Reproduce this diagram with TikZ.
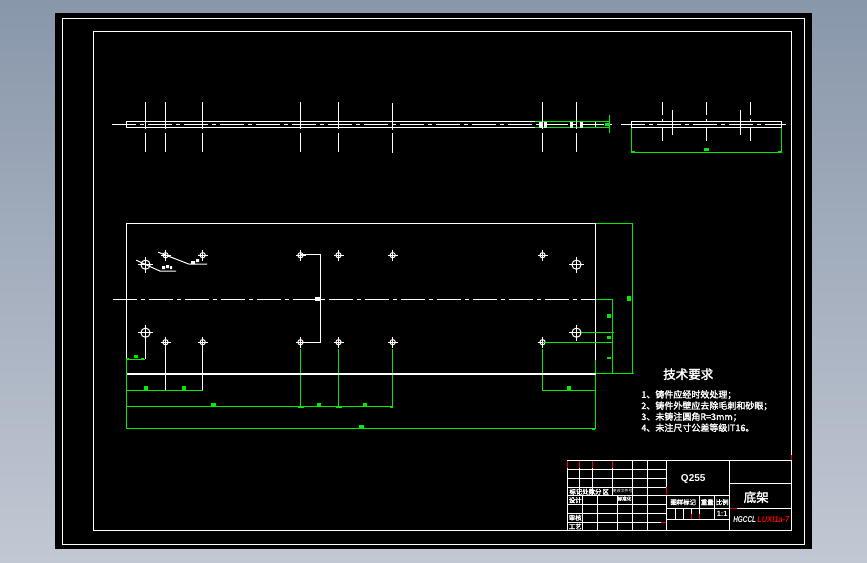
\documentclass[tikz,border=0pt]{standalone}
\usepackage{fontspec}
\setmainfont{Liberation Sans}
\newfontfamily\cjk[AutoFakeBold=2]{Noto Sans CJK SC}
\definecolor{dimgreen}{RGB}{0,235,0}
\definecolor{bgtop}{RGB}{137,151,171}
\definecolor{bgbot}{RGB}{194,200,211}
\definecolor{tred}{RGB}{240,0,0}
\tikzset{
  wl/.style={draw=white,line width=1.2pt},
  gl/.style={draw=dimgreen,line width=1.2pt},
  rl/.style={draw=tred,line width=1.2pt},
  cline/.style={draw=white,line width=1.2pt,dash pattern=on 24pt off 4pt on 4pt off 4pt},
  blob/.style={fill=dimgreen,draw=none},
  wblob/.style={fill=white,draw=none},
  tx/.style={text=white,inner sep=0pt,font=\cjk\bfseries\fontsize{6.4}{7}\selectfont},
  req/.style={text=white,inner sep=0pt,anchor=west,font=\cjk\bfseries\fontsize{9}{10}\selectfont},
}
\begin{document}
\begin{tikzpicture}[x=1pt,y=-1pt]
\useasboundingbox (0,0) rectangle (867,562);
\shade[top color=bgtop,bottom color=bgbot] (0,0) rectangle (867,562);
\fill[black] (55,13) rectangle (812,549);
\begin{scope}[shift={(0.2,0.2)}]
\draw[wl] (62.3,18.3) rectangle (804.3,544.3);
\draw[wl] (93.3,31.3) rectangle (791.3,530.3);
% --- upper view
\draw[wl] (535,121.5) -- (126.3,121.5) -- (126.3,127.5) -- (535,127.5);
\draw[gl] (535,121.5) -- (610,121.5) (535,127.5) -- (610,127.5);
\draw[gl] (609.5,115) -- (609.5,133);
\draw[cline] (112,124.3) -- (613,124.3);
\fill[blob] (605,123) rectangle (610,126);
\foreach \x in {145.3,165.3,202.3,300.3,338.3,542.3,576.3}{
  \draw[wl] (\x,102) -- (\x,129) (\x,133) -- (\x,152);
}
\draw[wl] (392.3,103) -- (392.3,130) (392.3,133) -- (392.3,153);
\foreach \x in {540,545,571,581}{ \fill[wblob] (\x-1.5,121.5) rectangle (\x+1.5,127.5); }
\draw[wl] (595.3,122) -- (595.3,127);
% --- upper right view
\draw[wl] (631.5,127.5) -- (631.5,121.5) -- (781.5,121.5) -- (781.5,127.5) -- cycle;
\draw[cline] (621,124.3) -- (786,124.3);
\foreach \x in {662.3,706.3,750.3}{
  \draw[wl] (\x,102) -- (\x,115) (\x,119) -- (\x,122) (\x,128) -- (\x,141);
}
\foreach \x in {672.3,740.3}{ \draw[wl] (\x,110) -- (\x,135); }
\draw[gl] (631.5,128) -- (631.5,152.3) -- (781.5,152.3) -- (781.5,128);
\fill[blob] (704,148) rectangle (709,151);
\fill[blob] (632,151) rectangle (635,152.3);
\fill[blob] (778,151) rectangle (781,152.3);
% --- main view
\draw[wl] (126.3,373) -- (126.3,223.5) -- (595.5,223.5) -- (595.5,360);
\draw[cline] (113,299.3) -- (595,299.3);
\foreach \x in {165.3,202.5,300.3,338.3,392.5,542.3}{
  \foreach \y in {255,342}{
    \draw[wl,line width=1pt] (\x,\y) circle (2.6);
    \draw[wl,line width=1pt] (\x-5,\y) -- (\x+5,\y) (\x,\y-5.5) -- (\x,\y+5.5);
  }
}
\foreach \p in {(145.3,264.5),(145.3,332.5),(576.3,264.5),(576.3,332.5)}{
  \draw[wl,line width=1pt] \p circle (4.6);
  \draw[wl,line width=1pt] \p +(-7.5,0) -- +(7.5,0) \p +(0,-8) -- +(0,8);
}
% white extension lines / leaders
\draw[wl] (300.3,254.5) -- (320,254.5) -- (320,342.5) -- (300.3,342.5);
\fill[wblob] (315,297) rectangle (320,301);
\draw[wl] (145.3,338) -- (145.3,359);
\draw[wl] (165.3,347) -- (165.3,390);
\draw[wl] (202.5,347) -- (202.5,390);
\draw[wl,line width=1pt] (136,260) -- (160,271) -- (176,271);
\fill[wblob] (162,266) rectangle (165,269) (166,265) rectangle (169,268) (170,266) rectangle (172,269);
\draw[wl,line width=1pt] (158,252) -- (189,264) -- (207,264);
\fill[wblob] (191,261) rectangle (195,264) (196,259) rectangle (199,262);
% green dimensions
\draw[gl] (126.5,359) -- (145,359);
\draw[gl] (126.5,359) -- (126.5,429);
\draw[gl] (126.5,390) -- (202.5,390);
\draw[gl] (126.5,406.5) -- (392.3,406.5);
\draw[gl] (126.5,428.3) -- (595.5,428.3);
\draw[gl] (595.5,360) -- (595.5,429);
\foreach \x in {300.3,338.3,392.3}{ \draw[gl] (\x,349) -- (\x,407); }
\draw[gl] (542.3,349) -- (542.3,391) (542.3,390) -- (595.5,390);
\draw[gl] (542.3,342.5) -- (612.5,342.5);
\draw[gl] (581,332.5) -- (613.5,332.5);
\draw[gl] (595.5,299.3) -- (612.5,299.3) (612.5,299.3) -- (612.5,373.5);
\draw[gl] (595.5,373.5) -- (633.5,373.5);
\draw[gl] (632.3,223.5) -- (632.3,373.5) (595.5,223.5) -- (632.8,223.5);
\draw[white,line width=2pt] (126.3,374) -- (595.5,374);
\foreach \x/\y/\w/\h in {136/356/4/3,146/388/4/3.5,184/388/4/3.5,213/404.5/5/3.5,319/404.5/4/3.5,365/404.5/3.5/3.5,361/426.5/5/3.5,569/388/4/3.5,629/298.5/3.5/5,609/316/4/3.5,609/337.5/4/3.5,609/358/4/1.5,
   127.5/358.5/3/1.5,142/358.5/3/1.5,127.5/406.5/3/1.5,300.3/407/6/1.5,338.3/407/6/1.5,391/407/3/1.5,127.5/428.5/3/1.5,593.5/429/3/1.5}{
  \fill[blob] (\x-\w/2,\y-\h/2) rectangle (\x+\w/2,\y+\h/2);
}
% --- technical requirements
\node[text=white,inner sep=0pt,font=\cjk\bfseries\fontsize{12.5}{13}\selectfont] (reqtitle) at (688,374) {技术要求};
\node[req] (req1) at (641,394.5) {1、铸件应经时效处理；};
\node[req] (req2) at (641,405.7) {2、铸件外壁应去除毛刺和砂眼；};
\node[req] (req3) at (641,416.7) {3、未铸注圆角R=3mm；};
\node[req] (req4) at (641,427.5) {4、未注尺寸公差等级IT16。};
% --- title block
\draw[wl] (567.3,460.3) rectangle (791.3,530.3);
\foreach \x in {579.3,592.5}{ \draw[wl] (\x,460.3) -- (\x,495.5); }
\draw[wl] (612.3,460.3) -- (612.3,495.5);
\foreach \x in {632.3,647.3,666.3}{ \draw[wl] (\x,460.3) -- (\x,530.3); }
\foreach \x in {582.3,597.5,617.3}{ \draw[wl] (\x,495.5) -- (\x,530.3); }
\foreach \y in {469,478.5,487.5,495.5,504.5,513.5,522}{ \draw[wl] (567.3,\y) -- (666.3,\y); }
\draw[wl] (729.3,460.3) -- (729.3,530.3);
\draw[wl] (729.3,483.5) -- (791.3,483.5);
\draw[wl] (729.3,508) -- (791.3,508);
\draw[wl] (666.3,495.5) -- (729.3,495.5);
\draw[wl] (666.3,508) -- (729.3,508);
\draw[wl] (666.3,519.5) -- (729.3,519.5);
\draw[wl] (699.5,495.5) -- (699.5,519.5);
\draw[wl] (714.5,495.5) -- (714.5,519.5);
\foreach \x in {675.3,683.3,691.3}{ \draw[wl] (\x,508) -- (\x,519.5); }
% red bits
\draw[rl] (567.3,461) -- (567.3,468);
\draw[rl] (579.3,461) -- (579.3,468);
\draw[rl] (592.5,461) -- (592.5,468);
\draw[rl] (612.3,461) -- (612.3,468);
\draw[rl] (666.3,487) -- (666.3,495);
\draw[rl] (691.3,514) -- (691.3,519);
\draw[rl] (699.5,514) -- (699.5,519);
\draw[rl] (729.3,508) -- (737,508);
\draw[rl] (661,522) -- (666,522);
\draw[rl] (791.3,455) -- (791.3,460);
% texts
\node[text=white,inner sep=0pt,font=\bfseries\fontsize{10}{11}\selectfont] (mat) at (693,479) {Q255};
\node[text=white,inner sep=0pt,font=\cjk\bfseries\fontsize{12.5}{13}\selectfont] (ttl) at (756,497) {底架};
\node[tx] (t1) at (589,491.5) {标记处数分\,区};
\node[tx,font=\cjk\fontsize{3.9}{5}\selectfont] (t2) at (622.5,490.5) {更改文件号};
\node[tx] (t3) at (575,500) {设计};
\node[tx,font=\cjk\bfseries\fontsize{4.6}{6}\selectfont] (t4) at (624.3,498.5) {标准化};
\node[tx] (t5) at (575,517.5) {审核};
\node[tx] (t6) at (575,526.3) {工艺};
\node[tx] (t7) at (683,502) {图样标记};
\node[tx] (t8) at (707,502) {重量};
\node[tx] (t9) at (722,502) {比例};
\node[text=white,inner sep=0pt,font=\bfseries\fontsize{7.5}{8}\selectfont] (t10) at (722,514) {1:1};
\node[anchor=west,inner sep=0pt,text=white,xscale=.75,transform shape,font=\bfseries\itshape\fontsize{8.5}{9}\selectfont] (code1) at (733,519.5) {HGCCL};
\node[anchor=west,inner sep=0pt,text=tred,xscale=.88,transform shape,font=\bfseries\itshape\fontsize{8.5}{9}\selectfont] (code2) at (757,519.5) {LUXI1a-7};
\end{scope}
\end{tikzpicture}
\end{document}
